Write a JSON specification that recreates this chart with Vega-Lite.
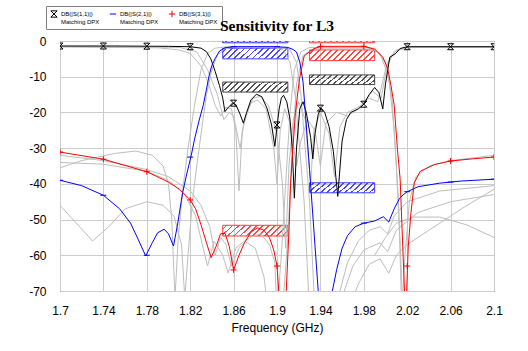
{
"$schema":"https://vega.github.io/schema/vega-lite/v6.json",
"width":434,"height":250,
"autosize":{"type":"none"},
"padding":{"left":60,"top":41,"right":34,"bottom":60},
"background":"white",
"title":{"text":"Sensitivity for L3","font":"Liberation Serif","fontSize":15.5,"fontWeight":"bold","color":"#000000","anchor":"middle","baseline":"alphabetic","offset":-41},
"config":{"view":{"stroke":"#444444","strokeWidth":1},
"axis":{"grid":true,"gridColor":"#cccccc","gridWidth":1,"domain":false,"ticks":false,"tickSize":0,"labelFont":"Liberation Sans","labelFontSize":12,"labelColor":"#000000","titleFont":"Liberation Sans","titleFontSize":12,"titleFontWeight":"normal","titleColor":"#000000","labelExpr":"datum.value + ''"},
"legend":{"orient":"none","legendX":-14,"legendY":-35,"direction":"horizontal","padding":4,"strokeColor":"#808080","fillColor":"#ffffff","labelFont":"Liberation Sans","labelFontSize":6,"labelColor":"#000000","symbolSize":40,"symbolStrokeWidth":1,"columnPadding":7,"labelOffset":3}},
"datasets":{
"main":[
{"t":"S11","f":1.7,"v":-1.4},{"t":"S11","f":1.75,"v":-1.4},{"t":"S11","f":1.8,"v":-1.5},{"t":"S11","f":1.82,"v":-1.6},{"t":"S11","f":1.83,"v":-2.0},{"t":"S11","f":1.835,"v":-3.0},{"t":"S11","f":1.839,"v":-5.0},{"t":"S11","f":1.843,"v":-8.5},{"t":"S11","f":1.847,"v":-12.5},{"t":"S11","f":1.85,"v":-16},{"t":"S11","f":1.852,"v":-19.8},{"t":"S11","f":1.855,"v":-18.6},{"t":"S11","f":1.859,"v":-17.4},{"t":"S11","f":1.862,"v":-17.8},{"t":"S11","f":1.866,"v":-20.5},{"t":"S11","f":1.869,"v":-23},{"t":"S11","f":1.872,"v":-20},{"t":"S11","f":1.876,"v":-16.5},{"t":"S11","f":1.881,"v":-14.9},{"t":"S11","f":1.886,"v":-15.6},{"t":"S11","f":1.891,"v":-19},{"t":"S11","f":1.895,"v":-23.5},{"t":"S11","f":1.898,"v":-29.5},{"t":"S11","f":1.9,"v":-24},{"t":"S11","f":1.902,"v":-19},{"t":"S11","f":1.904,"v":-16},{"t":"S11","f":1.906,"v":-15.2},{"t":"S11","f":1.909,"v":-17},{"t":"S11","f":1.912,"v":-22},{"t":"S11","f":1.914,"v":-30},{"t":"S11","f":1.916,"v":-44},{"t":"S11","f":1.918,"v":-30},{"t":"S11","f":1.921,"v":-19},{"t":"S11","f":1.924,"v":-17},{"t":"S11","f":1.927,"v":-20},{"t":"S11","f":1.931,"v":-27},{"t":"S11","f":1.933,"v":-33},{"t":"S11","f":1.935,"v":-26},{"t":"S11","f":1.938,"v":-20.5},{"t":"S11","f":1.9407,"v":-18.8},{"t":"S11","f":1.944,"v":-20},{"t":"S11","f":1.948,"v":-24},{"t":"S11","f":1.952,"v":-31},{"t":"S11","f":1.956,"v":-43.5},{"t":"S11","f":1.96,"v":-28},{"t":"S11","f":1.964,"v":-22},{"t":"S11","f":1.968,"v":-20},{"t":"S11","f":1.975,"v":-19},{"t":"S11","f":1.98,"v":-17.7},{"t":"S11","f":1.985,"v":-15},{"t":"S11","f":1.99,"v":-13},{"t":"S11","f":1.994,"v":-14.5},{"t":"S11","f":1.9975,"v":-19},{"t":"S11","f":2.0,"v":-12},{"t":"S11","f":2.004,"v":-4.5},{"t":"S11","f":2.009,"v":-3.6},{"t":"S11","f":2.0135,"v":-2.1},{"t":"S11","f":2.02,"v":-1.6},{"t":"S11","f":2.1,"v":-1.6},
{"t":"S21","f":1.7,"v":-39.0},{"t":"S21","f":1.72,"v":-40.5},{"t":"S21","f":1.74,"v":-43.2},{"t":"S21","f":1.755,"v":-47},{"t":"S21","f":1.765,"v":-51},{"t":"S21","f":1.772,"v":-55.5},{"t":"S21","f":1.779,"v":-60.2},{"t":"S21","f":1.785,"v":-56.5},{"t":"S21","f":1.79,"v":-53.7},{"t":"S21","f":1.796,"v":-52.7},{"t":"S21","f":1.8,"v":-54},{"t":"S21","f":1.8046,"v":-57.4},{"t":"S21","f":1.808,"v":-52},{"t":"S21","f":1.813,"v":-42.5},{"t":"S21","f":1.817,"v":-37},{"t":"S21","f":1.821,"v":-32},{"t":"S21","f":1.824,"v":-27.5},{"t":"S21","f":1.828,"v":-22.5},{"t":"S21","f":1.832,"v":-18},{"t":"S21","f":1.835,"v":-13.5},{"t":"S21","f":1.8375,"v":-9.6},{"t":"S21","f":1.84,"v":-6.8},{"t":"S21","f":1.843,"v":-4.9},{"t":"S21","f":1.847,"v":-2.8},{"t":"S21","f":1.852,"v":-1.9},{"t":"S21","f":1.86,"v":-1.6},{"t":"S21","f":1.9,"v":-1.6},{"t":"S21","f":1.91,"v":-1.8},{"t":"S21","f":1.915,"v":-2.4},{"t":"S21","f":1.918,"v":-3.1},{"t":"S21","f":1.921,"v":-5.9},{"t":"S21","f":1.924,"v":-11.5},{"t":"S21","f":1.93,"v":-36},{"t":"S21","f":1.938,"v":-70},{"t":"S21","f":1.939,"v":-76},{"t":"S21","f":1.95,"v":-76},{"t":"S21","f":1.951,"v":-70},{"t":"S21","f":1.955,"v":-64},{"t":"S21","f":1.96,"v":-58},{"t":"S21","f":1.965,"v":-54.5},{"t":"S21","f":1.972,"v":-52},{"t":"S21","f":1.98,"v":-51},{"t":"S21","f":1.99,"v":-50.4},{"t":"S21","f":1.998,"v":-49.2},{"t":"S21","f":2.003,"v":-50.7},{"t":"S21","f":2.008,"v":-47},{"t":"S21","f":2.013,"v":-44},{"t":"S21","f":2.017,"v":-42.9},{"t":"S21","f":2.02,"v":-42.2},{"t":"S21","f":2.03,"v":-40.8},{"t":"S21","f":2.05,"v":-39.8},{"t":"S21","f":2.07,"v":-39.2},{"t":"S21","f":2.1,"v":-38.7},
{"t":"S31","f":1.7,"v":-31.1},{"t":"S31","f":1.74,"v":-33.1},{"t":"S31","f":1.78,"v":-36.6},{"t":"S31","f":1.8,"v":-39.5},{"t":"S31","f":1.81,"v":-41.5},{"t":"S31","f":1.82,"v":-44.5},{"t":"S31","f":1.825,"v":-47},{"t":"S31","f":1.83,"v":-51.5},{"t":"S31","f":1.835,"v":-56.5},{"t":"S31","f":1.8393,"v":-60.7},{"t":"S31","f":1.844,"v":-57.4},{"t":"S31","f":1.848,"v":-54},{"t":"S31","f":1.852,"v":-53.8},{"t":"S31","f":1.856,"v":-57.5},{"t":"S31","f":1.86,"v":-64.1},{"t":"S31","f":1.865,"v":-60},{"t":"S31","f":1.87,"v":-56.5},{"t":"S31","f":1.876,"v":-53.5},{"t":"S31","f":1.882,"v":-52.3},{"t":"S31","f":1.888,"v":-53},{"t":"S31","f":1.893,"v":-55},{"t":"S31","f":1.897,"v":-58.5},{"t":"S31","f":1.9,"v":-63},{"t":"S31","f":1.903,"v":-76},{"t":"S31","f":1.908,"v":-76},{"t":"S31","f":1.9085,"v":-70},{"t":"S31","f":1.9112,"v":-52},{"t":"S31","f":1.9125,"v":-40},{"t":"S31","f":1.9146,"v":-30.3},{"t":"S31","f":1.917,"v":-20},{"t":"S31","f":1.9207,"v":-10.7},{"t":"S31","f":1.925,"v":-4.2},{"t":"S31","f":1.933,"v":-2.3},{"t":"S31","f":1.94,"v":-1.5},{"t":"S31","f":1.98,"v":-1.5},{"t":"S31","f":1.99,"v":-2.3},{"t":"S31","f":1.9975,"v":-4.5},{"t":"S31","f":2.002,"v":-7.7},{"t":"S31","f":2.005,"v":-12.4},{"t":"S31","f":2.008,"v":-18},{"t":"S31","f":2.011,"v":-30.3},{"t":"S31","f":2.0135,"v":-38.7},{"t":"S31","f":2.0175,"v":-70},{"t":"S31","f":2.018,"v":-76},{"t":"S31","f":2.019,"v":-76},{"t":"S31","f":2.0195,"v":-70},{"t":"S31","f":2.021,"v":-57.4},{"t":"S31","f":2.0235,"v":-48},{"t":"S31","f":2.0265,"v":-39.7},{"t":"S31","f":2.032,"v":-36.5},{"t":"S31","f":2.045,"v":-34.6},{"t":"S31","f":2.06,"v":-33.6},{"t":"S31","f":2.08,"v":-33},{"t":"S31","f":2.1,"v":-32.5}
],
"marks":[
{"t":"S11","f":1.7,"v":-1.4},{"t":"S11","f":1.74,"v":-1.4},{"t":"S11","f":1.78,"v":-1.45},{"t":"S11","f":1.82,"v":-1.6},{"t":"S11","f":1.86,"v":-17.4},{"t":"S11","f":1.9,"v":-23.5},{"t":"S11","f":1.94,"v":-18.8},{"t":"S11","f":1.98,"v":-17.7},{"t":"S11","f":2.02,"v":-1.6},{"t":"S11","f":2.06,"v":-1.6},{"t":"S11","f":2.1,"v":-1.6},
{"t":"S21","f":1.7,"v":-39},{"t":"S21","f":1.74,"v":-43.2},{"t":"S21","f":1.78,"v":-60},{"t":"S21","f":1.82,"v":-32.5},{"t":"S21","f":1.86,"v":-1.6},{"t":"S21","f":1.9,"v":-1.6},{"t":"S21","f":1.98,"v":-51},{"t":"S21","f":2.02,"v":-42.2},{"t":"S21","f":2.06,"v":-39.5},{"t":"S21","f":2.1,"v":-38.7},
{"t":"S31","f":1.7,"v":-31.1},{"t":"S31","f":1.74,"v":-33.1},{"t":"S31","f":1.78,"v":-36.6},{"t":"S31","f":1.82,"v":-44.5},{"t":"S31","f":1.86,"v":-64.1},{"t":"S31","f":1.9,"v":-63},{"t":"S31","f":1.94,"v":-1.5},{"t":"S31","f":1.98,"v":-1.5},{"t":"S31","f":2.02,"v":-63},{"t":"S31","f":2.06,"v":-33.6},{"t":"S31","f":2.1,"v":-32.5}
],
"gray":[
{"g":"a","f":1.7,"v":-32},{"g":"a","f":1.74,"v":-33.5},{"g":"a","f":1.78,"v":-36},{"g":"a","f":1.8,"v":-38},{"g":"a","f":1.82,"v":-42},{"g":"a","f":1.83,"v":-46},{"g":"a","f":1.838,"v":-52},{"g":"a","f":1.843,"v":-60},{"g":"a","f":1.848,"v":-55},{"g":"a","f":1.853,"v":-57},{"g":"a","f":1.858,"v":-63},{"g":"a","f":1.865,"v":-58},{"g":"a","f":1.875,"v":-55},{"g":"a","f":1.885,"v":-54},{"g":"a","f":1.893,"v":-57},{"g":"a","f":1.898,"v":-62},{"g":"a","f":1.9,"v":-76},
{"g":"b","f":1.7,"v":-34},{"g":"b","f":1.74,"v":-34.5},{"g":"b","f":1.78,"v":-36.5},{"g":"b","f":1.8,"v":-39},{"g":"b","f":1.815,"v":-43},{"g":"b","f":1.825,"v":-49},{"g":"b","f":1.832,"v":-58},{"g":"b","f":1.836,"v":-63},{"g":"b","f":1.842,"v":-56},{"g":"b","f":1.85,"v":-60},{"g":"b","f":1.855,"v":-65},{"g":"b","f":1.862,"v":-58},{"g":"b","f":1.87,"v":-56},{"g":"b","f":1.88,"v":-58},{"g":"b","f":1.888,"v":-66},{"g":"b","f":1.892,"v":-76},
{"g":"c","f":1.7,"v":-46},{"g":"c","f":1.715,"v":-51},{"g":"c","f":1.73,"v":-56},{"g":"c","f":1.745,"v":-52},{"g":"c","f":1.76,"v":-47},{"g":"c","f":1.78,"v":-45},{"g":"c","f":1.795,"v":-46},{"g":"c","f":1.805,"v":-49},{"g":"c","f":1.812,"v":-57},{"g":"c","f":1.815,"v":-72},{"g":"c","f":1.818,"v":-60},{"g":"c","f":1.822,"v":-45},{"g":"c","f":1.826,"v":-35},{"g":"c","f":1.83,"v":-26},{"g":"c","f":1.835,"v":-15},{"g":"c","f":1.84,"v":-8},{"g":"c","f":1.845,"v":-4},{"g":"c","f":1.852,"v":-2.2},{"g":"c","f":1.86,"v":-1.7},{"g":"c","f":1.9,"v":-1.7},{"g":"c","f":1.912,"v":-2.5},{"g":"c","f":1.918,"v":-6},{"g":"c","f":1.922,"v":-15},{"g":"c","f":1.93,"v":-45},{"g":"c","f":1.935,"v":-76},
{"g":"d","f":1.7,"v":-35.5},{"g":"d","f":1.72,"v":-33.5},{"g":"d","f":1.75,"v":-31.5},{"g":"d","f":1.77,"v":-30.8},{"g":"d","f":1.785,"v":-32},{"g":"d","f":1.795,"v":-35},{"g":"d","f":1.8,"v":-40},{"g":"d","f":1.803,"v":-50},{"g":"d","f":1.806,"v":-72},{"g":"d","f":1.809,"v":-55},{"g":"d","f":1.813,"v":-42},{"g":"d","f":1.818,"v":-30},{"g":"d","f":1.824,"v":-18},{"g":"d","f":1.83,"v":-8},{"g":"d","f":1.836,"v":-3.5},{"g":"d","f":1.843,"v":-2},{"g":"d","f":1.855,"v":-1.6},{"g":"d","f":1.895,"v":-1.6},{"g":"d","f":1.906,"v":-2.5},{"g":"d","f":1.912,"v":-6},{"g":"d","f":1.917,"v":-16},{"g":"d","f":1.925,"v":-45},{"g":"d","f":1.93,"v":-76},
{"g":"e","f":1.7,"v":-1.7},{"g":"e","f":1.79,"v":-1.9},{"g":"e","f":1.81,"v":-2.5},{"g":"e","f":1.82,"v":-3.5},{"g":"e","f":1.83,"v":-7},{"g":"e","f":1.837,"v":-12},{"g":"e","f":1.843,"v":-18},{"g":"e","f":1.848,"v":-21},{"g":"e","f":1.853,"v":-18.5},{"g":"e","f":1.858,"v":-19},{"g":"e","f":1.862,"v":-25},{"g":"e","f":1.865,"v":-42},{"g":"e","f":1.868,"v":-25},{"g":"e","f":1.875,"v":-17.5},{"g":"e","f":1.882,"v":-16.5},{"g":"e","f":1.89,"v":-19},{"g":"e","f":1.897,"v":-30},{"g":"e","f":1.9,"v":-40},{"g":"e","f":1.903,"v":-25},{"g":"e","f":1.907,"v":-19},{"g":"e","f":1.912,"v":-23},{"g":"e","f":1.918,"v":-35},{"g":"e","f":1.922,"v":-28},{"g":"e","f":1.928,"v":-22},{"g":"e","f":1.935,"v":-25},{"g":"e","f":1.94,"v":-35},{"g":"e","f":1.945,"v":-23},{"g":"e","f":1.955,"v":-20},{"g":"e","f":1.965,"v":-21},{"g":"e","f":1.975,"v":-19},{"g":"e","f":1.985,"v":-16},{"g":"e","f":1.993,"v":-17},{"g":"e","f":2.0,"v":-8},{"g":"e","f":2.008,"v":-3},{"g":"e","f":2.02,"v":-1.8},{"g":"e","f":2.1,"v":-1.8},
{"g":"f","f":1.955,"v":-76},{"g":"f","f":1.958,"v":-70},{"g":"f","f":1.965,"v":-62},{"g":"f","f":1.975,"v":-56},{"g":"f","f":1.985,"v":-53},{"g":"f","f":1.995,"v":-52},{"g":"f","f":2.002,"v":-54},{"g":"f","f":2.008,"v":-49},{"g":"f","f":2.02,"v":-45},{"g":"f","f":2.05,"v":-42},{"g":"f","f":2.1,"v":-40.5},
{"g":"g","f":1.958,"v":-76},{"g":"g","f":1.962,"v":-70},{"g":"g","f":1.97,"v":-63},{"g":"g","f":1.98,"v":-58.5},{"g":"g","f":1.995,"v":-56.5},{"g":"g","f":2.002,"v":-59},{"g":"g","f":2.01,"v":-53},{"g":"g","f":2.03,"v":-48},{"g":"g","f":2.06,"v":-45},{"g":"g","f":2.1,"v":-43},
{"g":"h","f":1.965,"v":-76},{"g":"h","f":1.975,"v":-68},{"g":"h","f":1.985,"v":-62.5},{"g":"h","f":1.995,"v":-61},{"g":"h","f":2.003,"v":-65},{"g":"h","f":2.01,"v":-60},{"g":"h","f":2.02,"v":-57},{"g":"h","f":2.04,"v":-53},{"g":"h","f":2.07,"v":-47},{"g":"h","f":2.1,"v":-41.5},
{"g":"i","f":1.99,"v":-60},{"g":"i","f":2.0,"v":-55},{"g":"i","f":2.01,"v":-51},{"g":"i","f":2.025,"v":-49.3},{"g":"i","f":2.05,"v":-49.3},{"g":"i","f":2.075,"v":-51.5},{"g":"i","f":2.1,"v":-55},
{"g":"j","f":2.015,"v":-76},{"g":"j","f":2.018,"v":-60},{"g":"j","f":2.022,"v":-45},{"g":"j","f":2.028,"v":-38},{"g":"j","f":2.04,"v":-35},{"g":"j","f":2.06,"v":-33.5},{"g":"j","f":2.1,"v":-32},
{"g":"k","f":1.9,"v":-76},{"g":"k","f":1.904,"v":-60},{"g":"k","f":1.908,"v":-40},{"g":"k","f":1.912,"v":-20},{"g":"k","f":1.916,"v":-8},{"g":"k","f":1.922,"v":-3},{"g":"k","f":1.93,"v":-1.8},{"g":"k","f":1.985,"v":-1.8},{"g":"k","f":1.995,"v":-3.5},{"g":"k","f":2.003,"v":-10},{"g":"k","f":2.008,"v":-25},{"g":"k","f":2.012,"v":-45},{"g":"k","f":2.015,"v":-76},
{"g":"l","f":1.905,"v":-76},{"g":"l","f":1.91,"v":-55},{"g":"l","f":1.914,"v":-30},{"g":"l","f":1.918,"v":-12},{"g":"l","f":1.924,"v":-4},{"g":"l","f":1.935,"v":-2},{"g":"l","f":1.99,"v":-2},{"g":"l","f":2.0,"v":-6},{"g":"l","f":2.006,"v":-16},{"g":"l","f":2.01,"v":-35},{"g":"l","f":2.014,"v":-60},{"g":"l","f":2.016,"v":-76},
{"g":"m","f":1.7,"v":-1.5},{"g":"m","f":1.81,"v":-1.8},{"g":"m","f":1.826,"v":-3},{"g":"m","f":1.836,"v":-8},{"g":"m","f":1.845,"v":-15},{"g":"m","f":1.851,"v":-22},{"g":"m","f":1.856,"v":-20},{"g":"m","f":1.86,"v":-21},{"g":"m","f":1.866,"v":-30},{"g":"m","f":1.87,"v":-22},{"g":"m","f":1.878,"v":-16},{"g":"m","f":1.885,"v":-15.5},{"g":"m","f":1.892,"v":-18},{"g":"m","f":1.9,"v":-26},{"g":"m","f":1.905,"v":-40},{"g":"m","f":1.908,"v":-58},{"g":"m","f":1.911,"v":-35},{"g":"m","f":1.915,"v":-22},{"g":"m","f":1.92,"v":-17},{"g":"m","f":1.926,"v":-22},{"g":"m","f":1.931,"v":-40},{"g":"m","f":1.934,"v":-25},{"g":"m","f":1.94,"v":-20},{"g":"m","f":1.948,"v":-26},{"g":"m","f":1.953,"v":-38},{"g":"m","f":1.958,"v":-24},{"g":"m","f":1.965,"v":-20},{"g":"m","f":1.978,"v":-18},{"g":"m","f":1.988,"v":-14},{"g":"m","f":1.996,"v":-16},{"g":"m","f":2.002,"v":-6},{"g":"m","f":2.01,"v":-2.5},{"g":"m","f":2.02,"v":-1.7},{"g":"m","f":2.1,"v":-1.7}
],
"boxes":[
{"t":"S21","f1":1.85,"f2":1.91,"v1":0.5,"v2":-0.5},{"t":"S21","f1":1.85,"f2":1.91,"v1":-2,"v2":-5},{"t":"S21","f1":1.93,"f2":1.99,"v1":-39.7,"v2":-42.5},
{"t":"S31","f1":1.93,"f2":1.99,"v1":0.5,"v2":-0.5},{"t":"S31","f1":1.93,"f2":1.99,"v1":-2.5,"v2":-5.5},{"t":"S31","f1":1.85,"f2":1.91,"v1":-51.6,"v2":-54.6},
{"t":"S11","f1":1.85,"f2":1.91,"v1":-11.5,"v2":-14.3},{"t":"S11","f1":1.93,"f2":1.99,"v1":-9.5,"v2":-12.2}
]},
"encoding":{
"x":{"field":"f","type":"quantitative","scale":{"domain":[1.7,2.1],"nice":false,"zero":false},"axis":{"values":[1.7,1.74,1.78,1.82,1.86,1.9,1.94,1.98,2.02,2.06,2.1],"title":"Frequency (GHz)","labelPadding":14,"titlePadding":6,"labelFlush":false}},
"y":{"field":"v","type":"quantitative","scale":{"domain":[-70,0],"nice":false,"zero":false},"axis":{"values":[0,-10,-20,-30,-40,-50,-60,-70],"title":null,"labelPadding":14,"labelFlush":false}}
},
"layer":[
{"data":{"name":"boxes"},"transform":[{"filter":"datum.t == 'S21'"}],"mark":{"type":"rect","clip":true,"stroke":"#3c3cff","strokeWidth":1,"fill":{"gradient":"linear","x1":0,"y1":0,"x2":1.13,"y2":0.19,"stops":[{"offset":0,"color":"rgba(70,70,255,0)"},{"offset":0.04,"color":"rgba(70,70,255,0)"},{"offset":0.04,"color":"#4646ff"},{"offset":0.065,"color":"#4646ff"},{"offset":0.065,"color":"rgba(70,70,255,0)"},{"offset":0.12,"color":"rgba(70,70,255,0)"},{"offset":0.12,"color":"#4646ff"},{"offset":0.145,"color":"#4646ff"},{"offset":0.145,"color":"rgba(70,70,255,0)"},{"offset":0.2,"color":"rgba(70,70,255,0)"},{"offset":0.2,"color":"#4646ff"},{"offset":0.225,"color":"#4646ff"},{"offset":0.225,"color":"rgba(70,70,255,0)"},{"offset":0.28,"color":"rgba(70,70,255,0)"},{"offset":0.28,"color":"#4646ff"},{"offset":0.305,"color":"#4646ff"},{"offset":0.305,"color":"rgba(70,70,255,0)"},{"offset":0.36,"color":"rgba(70,70,255,0)"},{"offset":0.36,"color":"#4646ff"},{"offset":0.385,"color":"#4646ff"},{"offset":0.385,"color":"rgba(70,70,255,0)"},{"offset":0.44,"color":"rgba(70,70,255,0)"},{"offset":0.44,"color":"#4646ff"},{"offset":0.465,"color":"#4646ff"},{"offset":0.465,"color":"rgba(70,70,255,0)"},{"offset":0.52,"color":"rgba(70,70,255,0)"},{"offset":0.52,"color":"#4646ff"},{"offset":0.545,"color":"#4646ff"},{"offset":0.545,"color":"rgba(70,70,255,0)"},{"offset":0.6,"color":"rgba(70,70,255,0)"},{"offset":0.6,"color":"#4646ff"},{"offset":0.625,"color":"#4646ff"},{"offset":0.625,"color":"rgba(70,70,255,0)"},{"offset":0.68,"color":"rgba(70,70,255,0)"},{"offset":0.68,"color":"#4646ff"},{"offset":0.705,"color":"#4646ff"},{"offset":0.705,"color":"rgba(70,70,255,0)"},{"offset":0.76,"color":"rgba(70,70,255,0)"},{"offset":0.76,"color":"#4646ff"},{"offset":0.785,"color":"#4646ff"},{"offset":0.785,"color":"rgba(70,70,255,0)"},{"offset":0.84,"color":"rgba(70,70,255,0)"},{"offset":0.84,"color":"#4646ff"},{"offset":0.865,"color":"#4646ff"},{"offset":0.865,"color":"rgba(70,70,255,0)"},{"offset":0.92,"color":"rgba(70,70,255,0)"},{"offset":0.92,"color":"#4646ff"},{"offset":0.945,"color":"#4646ff"},{"offset":0.945,"color":"rgba(70,70,255,0)"},{"offset":1,"color":"rgba(70,70,255,0)"}]}},
"encoding":{"x":{"field":"f1","type":"quantitative"},"x2":{"field":"f2"},"y":{"field":"v1","type":"quantitative"},"y2":{"field":"v2"}}},
{"data":{"name":"boxes"},"transform":[{"filter":"datum.t == 'S31'"}],"mark":{"type":"rect","clip":true,"stroke":"#ff3c3c","strokeWidth":1,"fill":{"gradient":"linear","x1":0,"y1":0,"x2":1.13,"y2":0.19,"stops":[{"offset":0,"color":"rgba(255,70,70,0)"},{"offset":0.04,"color":"rgba(255,70,70,0)"},{"offset":0.04,"color":"#ff4646"},{"offset":0.065,"color":"#ff4646"},{"offset":0.065,"color":"rgba(255,70,70,0)"},{"offset":0.12,"color":"rgba(255,70,70,0)"},{"offset":0.12,"color":"#ff4646"},{"offset":0.145,"color":"#ff4646"},{"offset":0.145,"color":"rgba(255,70,70,0)"},{"offset":0.2,"color":"rgba(255,70,70,0)"},{"offset":0.2,"color":"#ff4646"},{"offset":0.225,"color":"#ff4646"},{"offset":0.225,"color":"rgba(255,70,70,0)"},{"offset":0.28,"color":"rgba(255,70,70,0)"},{"offset":0.28,"color":"#ff4646"},{"offset":0.305,"color":"#ff4646"},{"offset":0.305,"color":"rgba(255,70,70,0)"},{"offset":0.36,"color":"rgba(255,70,70,0)"},{"offset":0.36,"color":"#ff4646"},{"offset":0.385,"color":"#ff4646"},{"offset":0.385,"color":"rgba(255,70,70,0)"},{"offset":0.44,"color":"rgba(255,70,70,0)"},{"offset":0.44,"color":"#ff4646"},{"offset":0.465,"color":"#ff4646"},{"offset":0.465,"color":"rgba(255,70,70,0)"},{"offset":0.52,"color":"rgba(255,70,70,0)"},{"offset":0.52,"color":"#ff4646"},{"offset":0.545,"color":"#ff4646"},{"offset":0.545,"color":"rgba(255,70,70,0)"},{"offset":0.6,"color":"rgba(255,70,70,0)"},{"offset":0.6,"color":"#ff4646"},{"offset":0.625,"color":"#ff4646"},{"offset":0.625,"color":"rgba(255,70,70,0)"},{"offset":0.68,"color":"rgba(255,70,70,0)"},{"offset":0.68,"color":"#ff4646"},{"offset":0.705,"color":"#ff4646"},{"offset":0.705,"color":"rgba(255,70,70,0)"},{"offset":0.76,"color":"rgba(255,70,70,0)"},{"offset":0.76,"color":"#ff4646"},{"offset":0.785,"color":"#ff4646"},{"offset":0.785,"color":"rgba(255,70,70,0)"},{"offset":0.84,"color":"rgba(255,70,70,0)"},{"offset":0.84,"color":"#ff4646"},{"offset":0.865,"color":"#ff4646"},{"offset":0.865,"color":"rgba(255,70,70,0)"},{"offset":0.92,"color":"rgba(255,70,70,0)"},{"offset":0.92,"color":"#ff4646"},{"offset":0.945,"color":"#ff4646"},{"offset":0.945,"color":"rgba(255,70,70,0)"},{"offset":1,"color":"rgba(255,70,70,0)"}]}},
"encoding":{"x":{"field":"f1","type":"quantitative"},"x2":{"field":"f2"},"y":{"field":"v1","type":"quantitative"},"y2":{"field":"v2"}}},
{"data":{"name":"boxes"},"transform":[{"filter":"datum.t == 'S11'"}],"mark":{"type":"rect","clip":true,"stroke":"#404040","strokeWidth":1,"fill":{"gradient":"linear","x1":0,"y1":0,"x2":1.13,"y2":0.19,"stops":[{"offset":0,"color":"rgba(80,80,80,0)"},{"offset":0.04,"color":"rgba(80,80,80,0)"},{"offset":0.04,"color":"#505050"},{"offset":0.065,"color":"#505050"},{"offset":0.065,"color":"rgba(80,80,80,0)"},{"offset":0.12,"color":"rgba(80,80,80,0)"},{"offset":0.12,"color":"#505050"},{"offset":0.145,"color":"#505050"},{"offset":0.145,"color":"rgba(80,80,80,0)"},{"offset":0.2,"color":"rgba(80,80,80,0)"},{"offset":0.2,"color":"#505050"},{"offset":0.225,"color":"#505050"},{"offset":0.225,"color":"rgba(80,80,80,0)"},{"offset":0.28,"color":"rgba(80,80,80,0)"},{"offset":0.28,"color":"#505050"},{"offset":0.305,"color":"#505050"},{"offset":0.305,"color":"rgba(80,80,80,0)"},{"offset":0.36,"color":"rgba(80,80,80,0)"},{"offset":0.36,"color":"#505050"},{"offset":0.385,"color":"#505050"},{"offset":0.385,"color":"rgba(80,80,80,0)"},{"offset":0.44,"color":"rgba(80,80,80,0)"},{"offset":0.44,"color":"#505050"},{"offset":0.465,"color":"#505050"},{"offset":0.465,"color":"rgba(80,80,80,0)"},{"offset":0.52,"color":"rgba(80,80,80,0)"},{"offset":0.52,"color":"#505050"},{"offset":0.545,"color":"#505050"},{"offset":0.545,"color":"rgba(80,80,80,0)"},{"offset":0.6,"color":"rgba(80,80,80,0)"},{"offset":0.6,"color":"#505050"},{"offset":0.625,"color":"#505050"},{"offset":0.625,"color":"rgba(80,80,80,0)"},{"offset":0.68,"color":"rgba(80,80,80,0)"},{"offset":0.68,"color":"#505050"},{"offset":0.705,"color":"#505050"},{"offset":0.705,"color":"rgba(80,80,80,0)"},{"offset":0.76,"color":"rgba(80,80,80,0)"},{"offset":0.76,"color":"#505050"},{"offset":0.785,"color":"#505050"},{"offset":0.785,"color":"rgba(80,80,80,0)"},{"offset":0.84,"color":"rgba(80,80,80,0)"},{"offset":0.84,"color":"#505050"},{"offset":0.865,"color":"#505050"},{"offset":0.865,"color":"rgba(80,80,80,0)"},{"offset":0.92,"color":"rgba(80,80,80,0)"},{"offset":0.92,"color":"#505050"},{"offset":0.945,"color":"#505050"},{"offset":0.945,"color":"rgba(80,80,80,0)"},{"offset":1,"color":"rgba(80,80,80,0)"}]}},
"encoding":{"x":{"field":"f1","type":"quantitative"},"x2":{"field":"f2"},"y":{"field":"v1","type":"quantitative"},"y2":{"field":"v2"}}},
{"data":{"name":"gray"},"mark":{"type":"line","clip":true,"color":"#bdbdbd","strokeWidth":1},"encoding":{"detail":{"field":"g"},"order":{"field":"f","type":"quantitative"}}},
{"data":{"name":"main"},"mark":{"type":"line","clip":true,"strokeWidth":1},"encoding":{"order":{"field":"f","type":"quantitative"},"color":{"field":"t","type":"nominal","scale":{"domain":["S11","S21","S31"],"range":["#000000","#0000ff","#ff0000"]},"legend":{"title":null,"labelExpr":"datum.label == 'S11' ? ['DB(|S(1,1)|)','Matching DPX'] : datum.label == 'S21' ? ['DB(|S(2,1)|)','Matching DPX'] : ['DB(|S(3,1)|)','Matching DPX']"}}}},
{"data":{"name":"marks"},"mark":{"type":"point","clip":true,"filled":false,"strokeWidth":1,"size":36,"opacity":1},"encoding":{"color":{"field":"t","type":"nominal","legend":{"title":null,"labelExpr":"datum.label == 'S11' ? ['DB(|S(1,1)|)','Matching DPX'] : datum.label == 'S21' ? ['DB(|S(2,1)|)','Matching DPX'] : ['DB(|S(3,1)|)','Matching DPX']"}},"shape":{"field":"t","type":"nominal","scale":{"domain":["S11","S21","S31"],"range":["M-1,-1H1L-1,1H1Z","M-1,0H1","M-1,0H1M0,-1V1"]},"legend":{"title":null,"labelExpr":"datum.label == 'S11' ? ['DB(|S(1,1)|)','Matching DPX'] : datum.label == 'S21' ? ['DB(|S(2,1)|)','Matching DPX'] : ['DB(|S(3,1)|)','Matching DPX']"}}}}
]
}
